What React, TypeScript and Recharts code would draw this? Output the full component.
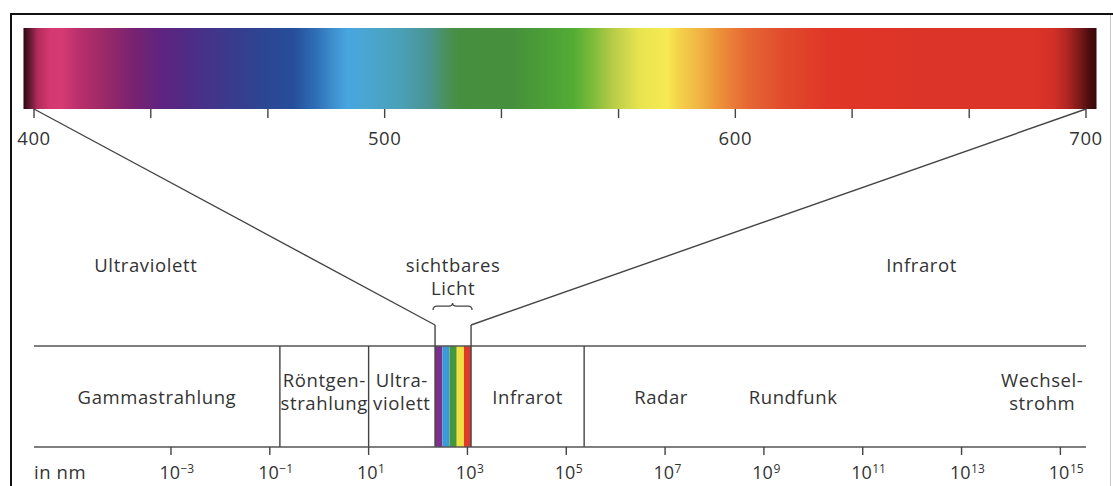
import React from 'react';
import { ComposedChart, XAxis, YAxis, ReferenceArea, ReferenceLine, ReferenceDot } from 'recharts';

// colour stops of the visible spectrum bar (wavelength in nm)
const SPECTRUM_NM = [397, 399, 401, 404.6, 408, 413, 419, 428, 436, 441.6, 447.3, 456.7, 466, 474, 480.7, 485, 489.5, 495, 504.4, 512.9, 518.6, 521.5, 536.6, 546.3, 553.7, 559.4, 565.1, 572.8, 580.5, 584.2, 589.9, 595.6, 603.3, 613.6, 626.1, 656.4, 684.9, 690.6, 694.6, 698.3, 701.1, 703];
const SPECTRUM_COLORS = ['#2a0810', '#6a1a35', '#b02c5a', '#d63870', '#d53a72', '#b82f6c', '#a02a68', '#7a2270', '#5e2480', '#542882', '#483088', '#383c8c', '#2c4694', '#264e9a', '#3070b8', '#3c8ecc', '#48a6e0', '#4aa6d0', '#4aa0b8', '#4a9490', '#4a9050', '#468f40', '#46903c', '#4ca037', '#52ac34', '#7cbc3a', '#b8cc48', '#e8e450', '#f6ea52', '#f4d04a', '#f0b444', '#ec9038', '#e66834', '#e04c2c', '#e03628', '#dc3428', '#dc3428', '#d43028', '#b02622', '#7a1818', '#4a0c0c', '#380808'];

const NM_DOMAIN = [400, 700];
const NM_TICKS = [400, 433.3, 466.7, 500, 533.3, 566.7, 600, 633.3, 666.7, 700];
const NM_LABELS = [400, 500, 600, 700];

// logarithmic wavelength axis, nm
const LOG_DOMAIN = [1.69e-6, 3.3e15];
const LOG_TICKS = [1e-3, 1e-1, 1e1, 1e3, 1e5, 1e7, 1e9, 1e11, 1e13, 1e15];

// the funnel: both ends of the spectrum bar meet both ends of the log axis
const FUNNEL = [
  { nm: NM_DOMAIN[0], wl: LOG_DOMAIN[0] },
  { nm: NM_DOMAIN[1], wl: LOG_DOMAIN[1] },
];

// labelled bands on the log axis
const BAND_NAMES = [['Gammastrahlung'], ['Röntgen-', 'strahlung'], ['Ultra-', 'violett'], ['Infrarot']];
const BAND_FROM = [1.69e-6, 0.16, 10, 1183];
const BAND_TO = [0.16, 10, 221, 2.3e5];
const DIVIDERS = [0.16, 10, 2.3e5];

// the visible window and its colour stripes
const VISIBLE = [221, 1183];
const STRIPE_EDGES = [221, 310, 434, 607, 849, 1183];
const STRIPE_COLORS = ['#7d2f8c', '#3d9ad8', '#44973f', '#f0e23e', '#dd3a2b'];

// unbounded labels in the lower band
const FREE_NAMES = [['Radar'], ['Rundfunk'], ['Wechsel-', 'strohm']];
const FREE_AT = [8.3e6, 3.9e9, 4.3e14];

// labels above the band
const TOP_NAMES = [['Ultraviolett'], ['sichtbares', 'Licht'], ['Infrarot']];
const TOP_AT = [3.1e-4, Math.sqrt(221 * 1183), 1.55e12];

// vertical layout (units above the baseline)
const BAND_TOP = 101;
const KNEE = 122;
const BAR_BASE = 338;
const BAR_TOP = 419;
const BRACE_LOW = 137;
const BRACE_HIGH = 144;
const TOP_ROW = 175;
const ONE_LINE = 43;
const TWO_LINE = 60;
const LINE_GAP = 23;

const FONT = '"Open Sans", "Noto Sans", sans-serif';
const INK = '#333';
const LINE = '#444';

const TextBlock = ({ cx, cy, lines, anchor = 'middle' }: any) => (
  <text x={cx} y={cy} textAnchor={anchor} fontFamily={FONT} fontSize={18.5} fill={INK} letterSpacing={0.6}>
    {lines.map((l: string, i: number) => (
      <tspan key={i} x={cx} dy={i === 0 ? 0 : LINE_GAP}>{l}</tspan>
    ))}
  </text>
);

const Brace = ({ x, y, width, height }: any) => {
  const L = x - 2;
  const R = x + width + 1;
  const M = (L + R) / 2;
  const mid = y + height * 0.45;
  const B = y + height;
  const d = `M ${L} ${B} Q ${L} ${mid} ${L + 4} ${mid} L ${M - 4} ${mid} Q ${M} ${mid} ${M} ${y} Q ${M} ${mid} ${M + 4} ${mid} L ${R - 4} ${mid} Q ${R} ${mid} ${R} ${B}`;
  return <path d={d} fill="none" stroke={LINE} strokeWidth={1.3} />;
};

const NmTick = ({ x, y, payload }: any) => {
  if (!NM_LABELS.includes(payload.value)) return <g />;
  return (
    <text x={x} y={y} dy={25} textAnchor="middle" fontFamily={FONT} fontSize={18.5} fill={INK} letterSpacing={0.6}>
      {payload.value}
    </text>
  );
};

const LogTick = ({ x, y, payload }: any) => {
  const exp = Math.round(Math.log10(payload.value));
  return (
    <g>
      <text x={x + 9} y={y} dy={22} textAnchor="end" fontFamily={FONT} fontSize={18} fill={INK}>10</text>
      <text x={x + 9.5} y={y} dy={16} textAnchor="start" fontFamily={FONT} fontSize={12} fill={INK}>
        {exp < 0 ? `\u2212${-exp}` : exp}
      </text>
    </g>
  );
};

const lineStyle = { stroke: LINE, strokeWidth: 1.4 };

export default function App() {
  const span = SPECTRUM_NM[SPECTRUM_NM.length - 1] - SPECTRUM_NM[0];
  return (
    <div style={{ position: 'absolute', left: 0, top: 0, width: 1113, height: 486, background: '#fff' }}>
      <div style={{ position: 'absolute', left: 10, top: 13, width: 1103, height: 473, borderTop: '2px solid #111', borderLeft: '2px solid #111' }} />
      <div style={{ position: 'absolute', left: 1110, top: 15, width: 1, height: 471, background: '#c8c8c8' }} />
      <div style={{ position: 'absolute', left: 0, top: 0 }}>
        <ComposedChart width={1113} height={486} data={FUNNEL} margin={{ top: 109, right: 27, bottom: 0, left: 34 }}>
          <defs>
            <linearGradient id="spectrum" x1="0" y1="0" x2="1" y2="0">
              {SPECTRUM_NM.map((nm, i) => (
                <stop key={i} offset={`${((nm - SPECTRUM_NM[0]) / span) * 100}%`} stopColor={SPECTRUM_COLORS[i]} />
              ))}
            </linearGradient>
          </defs>
          <XAxis
            xAxisId="nm"
            dataKey="nm"
            type="number"
            orientation="top"
            mirror
            domain={NM_DOMAIN}
            allowDataOverflow
            ticks={NM_TICKS}
            interval={0}
            axisLine={false}
            tickSize={9}
            tickLine={lineStyle}
            tick={<NmTick />}
          />
          <XAxis
            xAxisId="log"
            dataKey="wl"
            type="number"
            scale="log"
            domain={LOG_DOMAIN}
            allowDataOverflow
            ticks={LOG_TICKS}
            interval={0}
            height={39}
            tickSize={8}
            axisLine={{ stroke: '#555', strokeWidth: 1.5 }}
            tickLine={lineStyle}
            tick={<LogTick />}
          />
          <YAxis hide type="number" domain={[0, BAR_BASE]} allowDataOverflow />

          <ReferenceArea
            xAxisId="nm"
            x1={SPECTRUM_NM[0]}
            x2={SPECTRUM_NM[SPECTRUM_NM.length - 1]}
            y1={BAR_BASE}
            y2={BAR_TOP}
            fill="url(#spectrum)"
            fillOpacity={1}
            ifOverflow="visible"
          />

          {STRIPE_COLORS.map((c, i) => (
            <ReferenceArea key={`s${i}`} xAxisId="log" x1={STRIPE_EDGES[i]} x2={STRIPE_EDGES[i + 1]} y1={0} y2={BAND_TOP} fill={c} fillOpacity={1} ifOverflow="visible" />
          ))}

          <ReferenceLine xAxisId="log" y={BAND_TOP} stroke="#555" strokeWidth={1.5} ifOverflow="visible" />
          {DIVIDERS.map((d) => (
            <ReferenceLine key={`d${d}`} xAxisId="log" segment={[{ x: d, y: 0 }, { x: d, y: BAND_TOP }]} {...lineStyle} ifOverflow="visible" />
          ))}

          {/* funnel: visible window opens up to the full spectrum bar */}
          <ReferenceLine xAxisId="log" segment={[{ x: VISIBLE[0], y: 0 }, { x: VISIBLE[0], y: KNEE }]} {...lineStyle} ifOverflow="visible" />
          <ReferenceLine xAxisId="log" segment={[{ x: VISIBLE[1], y: 0 }, { x: VISIBLE[1], y: KNEE }]} {...lineStyle} ifOverflow="visible" />
          <ReferenceLine xAxisId="log" segment={[{ x: VISIBLE[0], y: KNEE }, { x: FUNNEL[0].wl, y: BAR_BASE }]} {...lineStyle} ifOverflow="visible" />
          <ReferenceLine xAxisId="log" segment={[{ x: VISIBLE[1], y: KNEE }, { x: FUNNEL[1].wl, y: BAR_BASE }]} {...lineStyle} ifOverflow="visible" />

          <ReferenceArea xAxisId="log" x1={VISIBLE[0]} x2={VISIBLE[1]} y1={BRACE_LOW} y2={BRACE_HIGH} shape={<Brace />} ifOverflow="visible" />

          {BAND_NAMES.map((lines, i) => (
            <ReferenceDot
              key={`b${i}`}
              xAxisId="log"
              x={Math.sqrt(BAND_FROM[i] * BAND_TO[i])}
              y={lines.length > 1 ? TWO_LINE : ONE_LINE}
              ifOverflow="visible"
              shape={(p: any) => <TextBlock cx={p.cx} cy={p.cy} lines={lines} />}
            />
          ))}
          {FREE_NAMES.map((lines, i) => (
            <ReferenceDot
              key={`f${i}`}
              xAxisId="log"
              x={FREE_AT[i]}
              y={lines.length > 1 ? TWO_LINE : ONE_LINE}
              ifOverflow="visible"
              shape={(p: any) => <TextBlock cx={p.cx} cy={p.cy} lines={lines} />}
            />
          ))}
          {TOP_NAMES.map((lines, i) => (
            <ReferenceDot
              key={`t${i}`}
              xAxisId="log"
              x={TOP_AT[i]}
              y={TOP_ROW}
              ifOverflow="visible"
              shape={(p: any) => <TextBlock cx={p.cx} cy={p.cy} lines={lines} />}
            />
          ))}
          <ReferenceDot
            xAxisId="log"
            x={LOG_DOMAIN[0]}
            y={-32}
            ifOverflow="visible"
            shape={(p: any) => <TextBlock cx={p.cx} cy={p.cy} lines={['in nm']} anchor="start" />}
          />
        </ComposedChart>
      </div>
    </div>
  );
}
